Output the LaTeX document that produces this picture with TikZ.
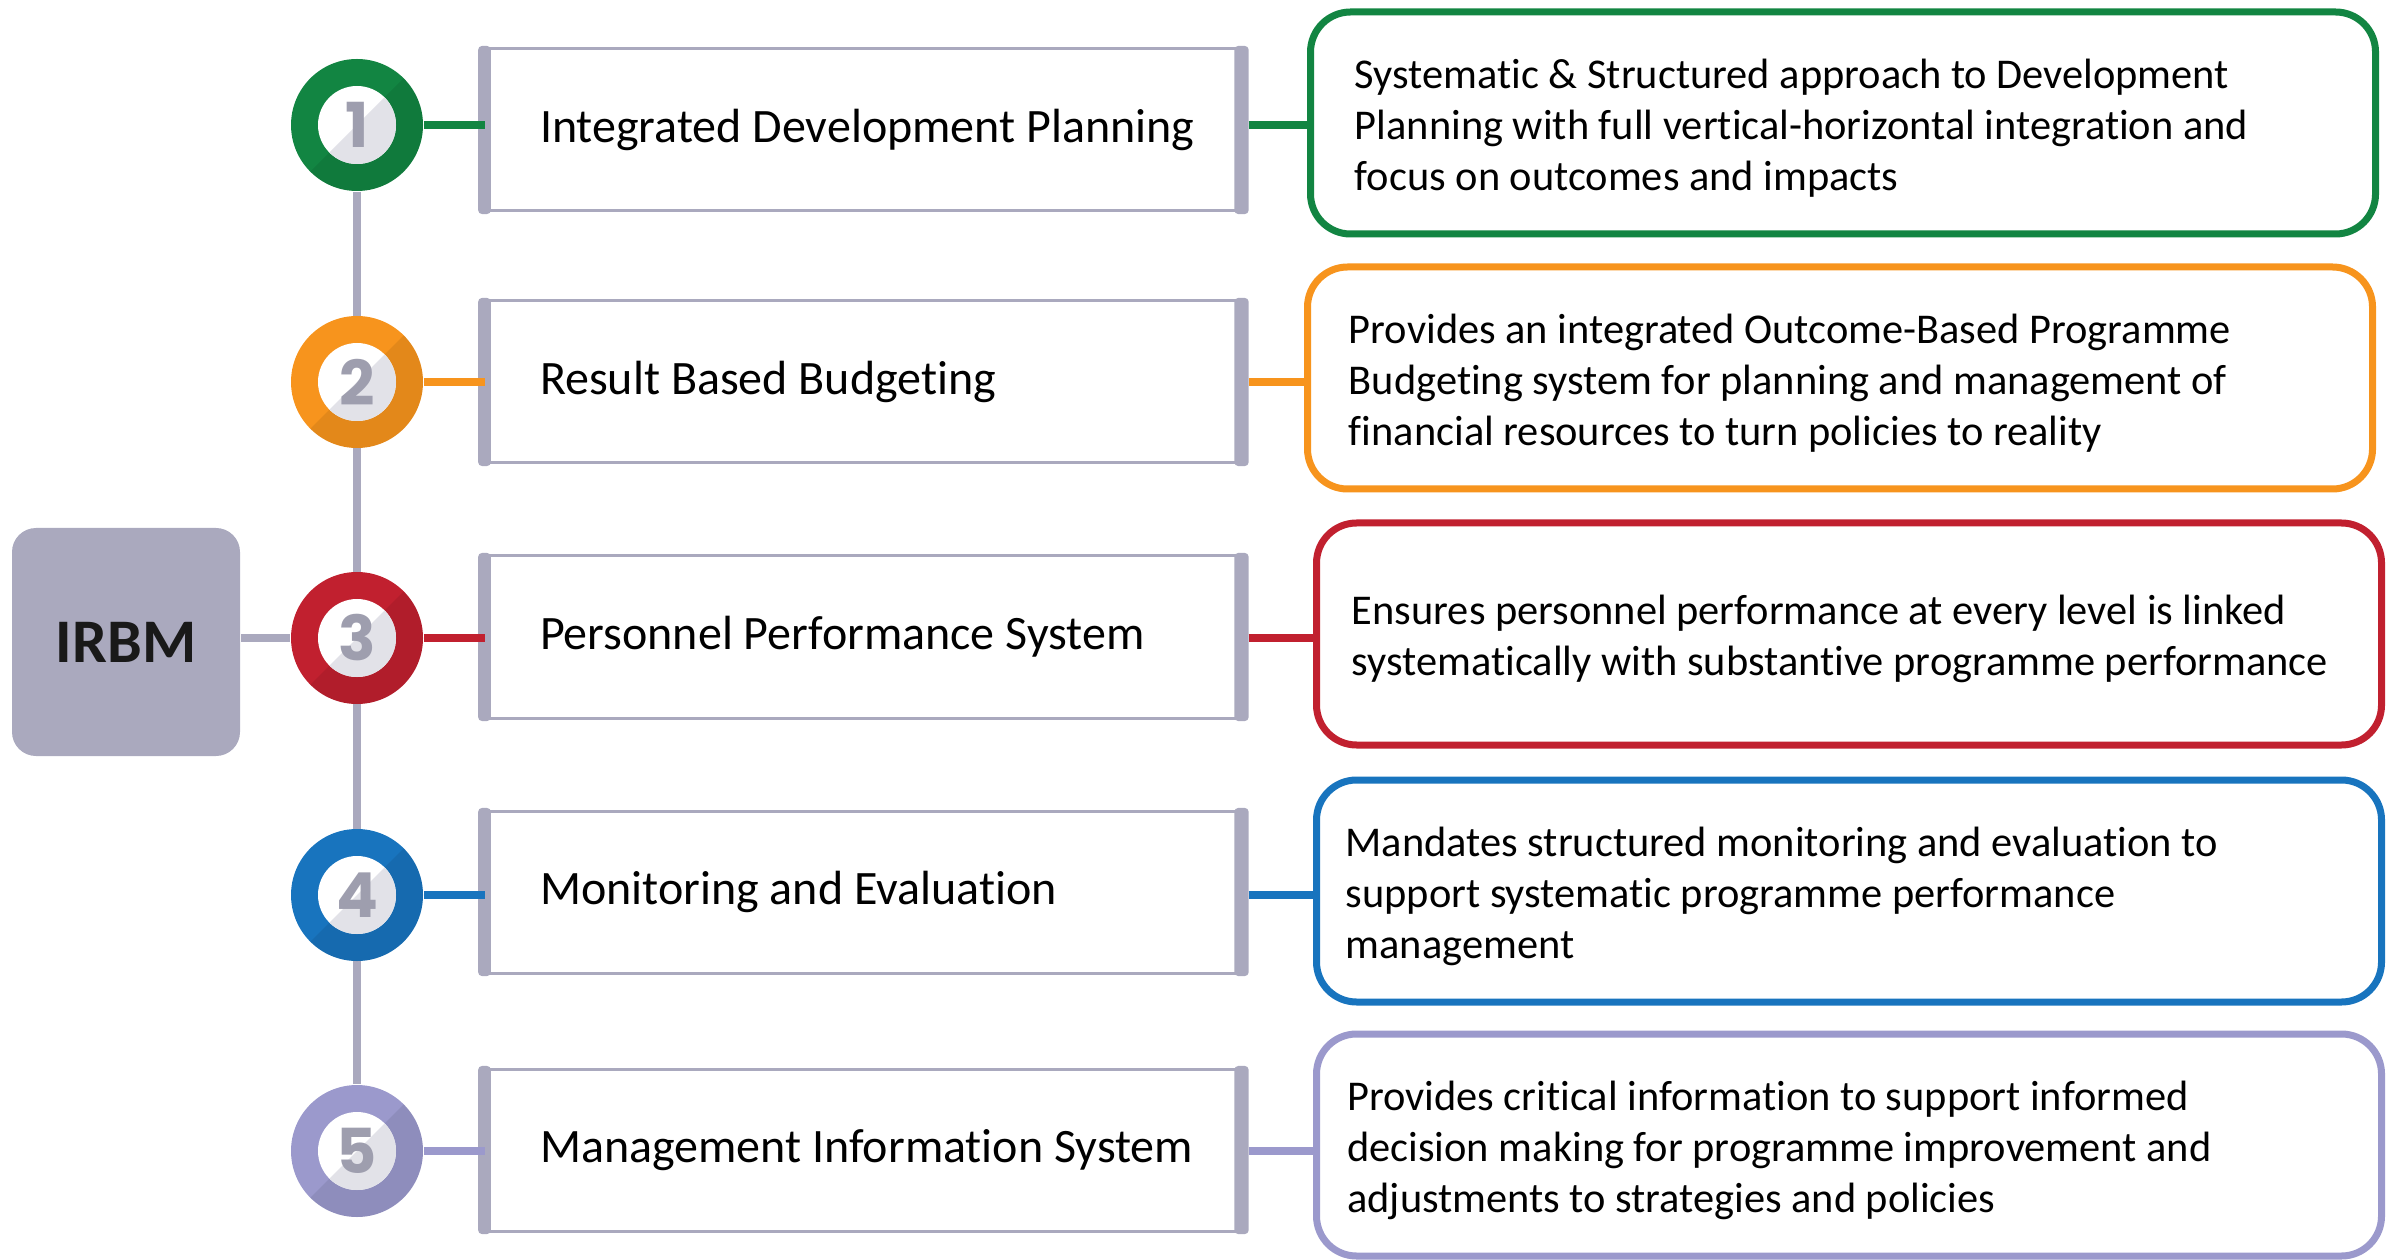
\documentclass[tikz,border=0pt]{standalone}
\usepackage{fontspec}
\setmainfont{Carlito}[Ligatures={NoCommon}]
\newfontfamily\numfont{Poppins}
\usetikzlibrary{backgrounds}
\definecolor{cgreen}{RGB}{18,133,66}
\definecolor{corange}{RGB}{247,148,29}
\definecolor{cred}{RGB}{193,32,47}
\definecolor{cblue}{RGB}{24,116,190}
\definecolor{clav}{RGB}{155,153,204}
\definecolor{boxgray}{RGB}{170,169,190}
\definecolor{numgray}{RGB}{158,158,174}
\definecolor{innergray}{RGB}{226,226,232}
\tikzset{
  ring/.style={circle, minimum size=33pt, inner sep=0pt, fill=#1,
    text=numgray, font=\numfont\bfseries\fontsize{15.5pt}{16pt}\selectfont,
    path picture={
      \fill[black, opacity=0.08] ([shift={(20pt,20pt)}]path picture bounding box.center) -- ([shift={(-20pt,-20pt)}]path picture bounding box.center) -- ([shift={(20pt,-20pt)}]path picture bounding box.center) -- cycle;
      \fill[white] (path picture bounding box.center) circle[radius=9.75pt];
      \begin{scope}
        \clip (path picture bounding box.center) circle[radius=9.75pt];
        \fill[innergray] ([shift={(12pt,12pt)}]path picture bounding box.center) -- ([shift={(-12pt,-12pt)}]path picture bounding box.center) -- ([shift={(12pt,-12pt)}]path picture bounding box.center) -- cycle;
      \end{scope}
    }},
  graybox/.style={rectangle, draw=boxgray, line width=0.75pt, fill=white,
    minimum height=40.5pt, inner xsep=13.5pt, inner ysep=0pt,
    font=\fontsize{12pt}{14pt}\selectfont},
  desc/.style={rectangle, draw=#1, line width=1.75pt, rounded corners=10pt, fill=white,
    minimum width=266.25pt, minimum height=55.5pt, inner xsep=7.3pt, inner ysep=0pt,
    font=\fontsize{10.6pt}{12.75pt}\selectfont},
  conn/.style={line width=2pt, draw=#1},
  irbmbox/.style={rectangle, fill=boxgray, rounded corners=6pt, minimum width=57pt,
    minimum height=57pt, font=\bfseries\fontsize{15.5pt}{18pt}\selectfont, text={black!90}},
}
\newcommand{\gbtext}[1]{\makebox[161.5pt][l]{#1}}
\newcommand{\dtext}[2]{\makebox[251.65pt][l]{\hspace*{#1}\raisebox{-1.5pt}[\height][\depth]{\begin{tabular}{@{}l@{}}#2\end{tabular}}}}
\begin{document}
\begin{tikzpicture}[x=0.25pt,y=-0.25pt]
\useasboundingbox (0,0) rectangle (2394,1260);
% IRBM
\node[irbmbox] (irbm) at (126,642) {IRBM};
% circles
\node[ring=cgreen] (c1) at (357,125) {1};
\node[ring=corange] (c2) at (357,382) {2};
\node[ring=cred] (c3) at (357,638) {3};
\node[ring=cblue] (c4) at (357,895) {4};
\node[ring=clav] (c5) at (357,1151) {5};
% gray boxes
\node[graybox] (g1) at (863,130) {\gbtext{Integrated Development Planning}};
\node[graybox] (g2) at (863,382) {\gbtext{Result Based Budgeting}};
\node[graybox] (g3) at (863,637) {\gbtext{Personnel Performance System}};
\node[graybox] (g4) at (863,892) {\gbtext{Monitoring and Evaluation}};
\node[graybox] (g5) at (863,1150) {\gbtext{Management Information System}};
\foreach \g in {g1,g2,g3,g4,g5}{
  \fill[boxgray, rounded corners=1pt] ([xshift=-1.6pt,yshift=0.4pt]\g.north west) rectangle ([xshift=1.6pt,yshift=-0.4pt]\g.south west);
  \fill[boxgray, rounded corners=1pt] ([xshift=-1.8pt,yshift=0.4pt]\g.north east) rectangle ([xshift=1.8pt,yshift=-0.4pt]\g.south east);
}
% description boxes
\node[desc=cgreen] (d1) at (1843,123) {\dtext{3.8pt}{Systematic \& Structured approach to Development\\Planning with full vertical-horizontal integration and\\focus on outcomes and impacts}};
\node[desc=corange] (d2) at (1840,378) {\dtext{3.05pt}{Provides an integrated Outcome-Based Programme\\Budgeting system for planning and management of\\financial resources to turn policies to reality}};
\node[desc=cred] (d3) at (1849,634) {\dtext{1.55pt}{Ensures personnel performance at every level is linked\\systematically with substantive programme performance}};
\node[desc=cblue] (d4) at (1849,891) {\dtext{0pt}{Mandates structured monitoring and evaluation to\\support systematic programme performance\\management}};
\node[desc=clav] (d5) at (1849,1145) {\dtext{0.4pt}{Provides critical information to support informed\\decision making for programme improvement and\\adjustments to strategies and policies}};
% connectors
\begin{scope}[on background layer]
\draw[conn=boxgray] (c1) -- (c5);
\draw[conn=boxgray] (c3 -| irbm.east) -- (c3);
\end{scope}
\draw[conn=cgreen] (c1.east) -- (c1 -| g1.west);
\draw[conn=corange] (c2.east) -- (c2 -| g2.west);
\draw[conn=cred] (c3.east) -- (c3 -| g3.west);
\draw[conn=cblue] (c4.east) -- (c4 -| g4.west);
\draw[conn=clav] (c5.east) -- (c5 -| g5.west);
\draw[conn=cgreen] ([xshift=1.8pt]c1 -| g1.east) -- (c1 -| d1.west);
\draw[conn=corange] ([xshift=1.8pt]c2 -| g2.east) -- (c2 -| d2.west);
\draw[conn=cred] ([xshift=1.8pt]c3 -| g3.east) -- (c3 -| d3.west);
\draw[conn=cblue] ([xshift=1.8pt]c4 -| g4.east) -- (c4 -| d4.west);
\draw[conn=clav] ([xshift=1.8pt]c5 -| g5.east) -- (c5 -| d5.west);
\end{tikzpicture}
\end{document}
